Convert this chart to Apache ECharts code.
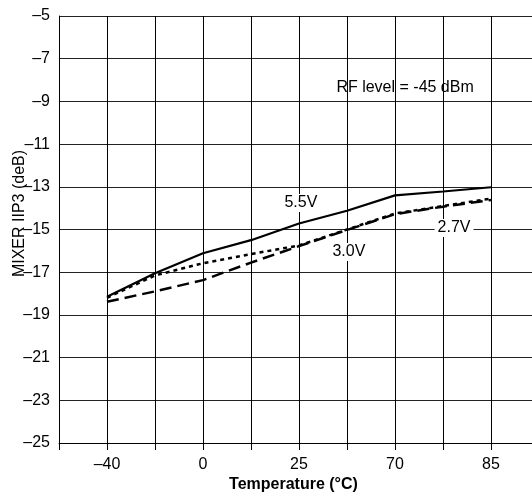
<!DOCTYPE html>
<html>
<head>
<meta charset="utf-8">
<script src="https://cdn.jsdelivr.net/npm/echarts@6/dist/echarts.min.js"></script>
<style>
html,body{margin:0;padding:0;background:#fff;overflow:hidden;}
#chart{width:532px;height:493px;}
</style>
</head>
<body>
<div id="chart"></div>
<script>
// x slots: every vertical gridline; labelled temperatures on odd slots
const xSlotLabels = ['', '–40', '', '0', '', '25', '', '70', '', '85', ''];
// values at slots 1..9
const v55 = [-18.15, -17.05, -16.11, -15.5, -14.72, -14.12, -13.4, -13.22, -13.02];
const v30 = [-18.2, -17.15, -16.58, -16.15, -15.75, -15.0, -14.25, -13.9, -13.55];
const v27 = [-18.38, -17.9, -17.37, -16.55, -15.78, -15.02, -14.28, -13.93, -13.62];
const yMin = -25, yMax = -5, yStep = 2;
// annotations [text, xSlot, yValue]
const notes = [
  ['5.5V', 5.04, -13.76],
  ['3.0V', 6.04, -16.05],
  ['2.7V', 8.23, -14.93],
  ['RF level = -45 dBm', 7.21, -8.37]
];

const FONT = '"Liberation Sans", Arial, Helvetica, sans-serif';
const toPairs = arr => arr.map((v, i) => [i + 1, v]);

const chart = echarts.init(document.getElementById('chart'));
chart.setOption({
  animation: false,
  backgroundColor: '#fff',
  grid: { left: 59, right: -7, top: 16, bottom: 50, containLabel: false, outerBoundsMode: 'none' },
  xAxis: {
    type: 'value', min: 0, max: xSlotLabels.length - 1, interval: 1,
    name: 'Temperature (°C)', nameLocation: 'middle', nameGap: 34, nameMoveOverlap: false,
    nameTextStyle: { fontFamily: FONT, fontSize: 16, fontWeight: 'bold', color: '#000', padding: [0, 11, 0, 0] },
    axisLine: { show: true, onZero: false, lineStyle: { color: '#000', width: 1 } },
    axisTick: { show: true, length: 7, lineStyle: { color: '#000', width: 1 } },
    axisLabel: { margin: 14, fontFamily: FONT, fontSize: 16, color: '#000',
      formatter: v => xSlotLabels[Math.round(v)] || '' },
    splitLine: { show: true, lineStyle: { color: '#000', width: 1 } }
  },
  yAxis: {
    type: 'value', min: yMin, max: yMax, interval: yStep,
    name: 'MIXER IIP3 (deB)', nameLocation: 'middle', nameGap: 31, nameRotate: 90, nameMoveOverlap: false,
    nameTextStyle: { fontFamily: FONT, fontSize: 16, color: '#000', padding: [0, 0, 0, 32] },
    axisLine: { show: true, lineStyle: { color: '#000', width: 1 } },
    axisTick: { show: false },
    axisLabel: { margin: 9, fontFamily: FONT, fontSize: 16, color: '#000',
      formatter: v => (v < 0 ? '–' + Math.abs(v) : String(v)) },
    splitLine: { show: true, lineStyle: { color: '#222', width: 1 } }
  },
  series: [
    { name: '5.5V', type: 'line', data: toPairs(v55), showSymbol: false, z: 3,
      lineStyle: { color: '#000', width: 2.2, type: 'solid' } },
    { name: '3.0V', type: 'line', data: toPairs(v30), showSymbol: false, z: 3,
      lineStyle: { color: '#000', width: 2.5, type: [4, 4] } },
    { name: '2.7V', type: 'line', data: toPairs(v27), showSymbol: false, z: 3,
      lineStyle: { color: '#000', width: 2.5, type: [12, 6] },
      markPoint: {
        symbol: 'circle', symbolSize: 1, itemStyle: { color: 'rgba(0,0,0,0)' },
        label: { show: true, position: 'inside', fontFamily: FONT, fontSize: 16, color: '#000',
          backgroundColor: '#fff', padding: [1, 3], formatter: p => p.name },
        data: notes.map(n => ({ name: n[0], coord: [n[1], n[2]],
          label: n[0].length > 5 ? { backgroundColor: 'transparent' } : {} }))
      }
    }
  ]
});
</script>
</body>
</html>
